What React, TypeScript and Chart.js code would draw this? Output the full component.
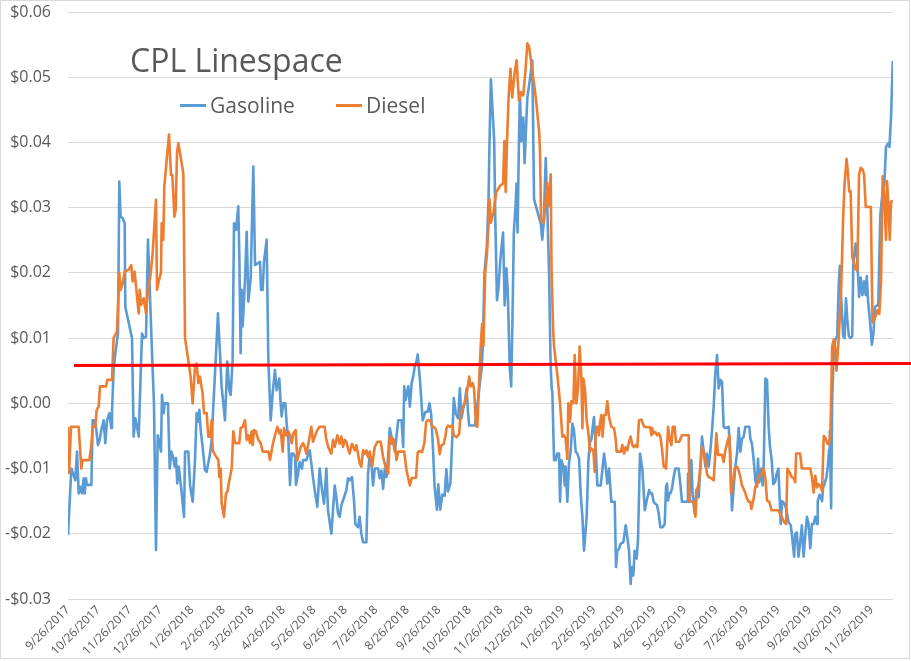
import React, { useEffect, useRef } from "react";
import { Chart, registerables } from "chart.js";

Chart.register(...registerables);

// Days since 9/26/2017
const gasDays = [
  0, 3.3, 5.6, 7.2, 8.9, 10.5, 12.1, 13.8, 15.4, 16.4, 17.7, 18.7, 23.0, 24.3, 26.2, 27.9, 29.5, 31.2, 32.8, 35.1,
  36.7, 38.4, 40.7, 42.6, 43.3, 44.9, 46.6, 49.2, 50.5, 51.8, 53.8, 55.8, 56.4, 63.0, 64.6, 66.3, 67.9, 69.6, 72.8, 74.5,
  76.8, 78.7, 82.7, 84.6, 86.6, 88.3, 89.9, 91.5, 92.5, 94.2, 95.1, 98.4, 100.1, 101.7, 103.4, 105.0, 106.3, 107.6, 109.0, 111.6,
  114.2, 115.2, 118.4, 120.1, 122.7, 125.0, 126.6, 128.3, 129.3, 130.6, 132.5, 134.8, 136.5, 139.8, 141.4, 143.0, 145.7, 147.6, 149.6, 151.2,
  154.5, 156.8, 158.8, 160.1, 162.0, 163.4, 165.4, 167.6, 168.6, 169.9, 170.9, 171.9, 174.2, 175.9, 177.5, 179.8, 182.4, 184.1, 187.3, 189.0,
  190.0, 191.6, 192.9, 195.5, 197.2, 199.5, 201.4, 203.7, 205.4, 208.0, 209.3, 210.3, 211.9, 213.9, 215.2, 216.9, 218.5, 220.2, 221.8, 223.5,
  224.4, 226.4, 228.0, 230.3, 231.3, 234.6, 237.9, 239.5, 241.1, 242.8, 245.4, 247.7, 250.0, 252.0, 254.3, 255.9, 259.2, 262.5, 264.1, 265.8,
  267.4, 269.1, 271.7, 274.0, 275.6, 277.2, 279.5, 281.5, 282.8, 285.4, 287.1, 288.7, 290.4, 293.7, 295.3, 297.0, 298.6, 300.2, 301.9, 305.2,
  306.8, 308.5, 310.1, 311.8, 313.4, 315.1, 316.7, 318.4, 320.0, 321.7, 325.0, 328.3, 329.9, 330.9, 332.3, 333.2, 334.9, 336.5, 338.2, 339.8,
  341.5, 342.5, 344.2, 346.5, 349.1, 351.8, 354.1, 355.8, 357.5, 359.1, 360.8, 363.1, 364.4, 366.4, 368.4, 370.7, 372.4, 374.0, 376.4, 378.4,
  379.7, 381.7, 384.0, 385.7, 387.3, 389.0, 390.6, 392.3, 393.9, 394.9, 400.6, 402.3, 403.9, 405.6, 407.2, 408.2, 409.9, 412.2, 413.9, 414.9,
  416.2, 419.5, 420.5, 422.2, 423.8, 425.5, 428.2, 429.8, 431.5, 432.8, 434.8, 436.2, 437.5, 438.8, 440.5, 441.5, 442.5, 443.8, 444.8, 446.1,
  448.1, 449.4, 450.8, 452.1, 454.7, 457.0, 458.7, 462.7, 465.4, 466.8, 468.2, 470.2, 471.7, 473.5, 475.0, 476.1, 476.7, 478.4, 480.0, 481.6,
  483.3, 484.3, 485.6, 487.6, 488.9, 489.8, 491.5, 493.1, 494.8, 496.4, 498.0, 499.7, 501.3, 503.0, 504.6, 506.3, 507.9, 510.5, 512.2, 513.8,
  515.1, 516.1, 517.7, 519.4, 521.0, 524.3, 525.9, 527.6, 529.2, 530.8, 532.5, 534.8, 538.1, 539.4, 540.7, 542.3, 544.0, 546.6, 548.9, 550.5,
  552.2, 553.8, 554.8, 556.4, 557.7, 559.7, 561.0, 563.0, 565.4, 567.7, 570.3, 572.0, 573.0, 574.8, 576.4, 578.1, 579.7, 581.4, 583.0, 585.3,
  587.3, 588.6, 589.6, 590.6, 591.9, 592.9, 594.5, 596.1, 597.8, 601.0, 602.7, 604.3, 609.3, 610.2, 611.5, 613.5, 614.8, 616.8, 618.4, 620.7,
  622.4, 624.0, 625.7, 627.3, 628.9, 630.6, 632.2, 633.9, 635.5, 637.1, 638.8, 640.4, 642.1, 643.7, 645.3, 647.0, 650.3, 651.9, 653.5, 655.2,
  656.8, 658.5, 660.1, 661.8, 663.4, 665.0, 666.7, 670.6, 671.6, 673.2, 674.9, 676.5, 678.1, 679.1, 680.4, 682.4, 683.7, 684.7, 686.4, 688.0,
  689.6, 690.9, 692.6, 694.2, 695.9, 697.5, 699.2, 701.5, 702.8, 704.8, 706.8, 708.1, 709.1, 711.4, 712.4, 714.7, 715.7, 717.3, 719.0, 720.6,
  722.3, 724.0, 725.6, 727.3, 728.9, 730.6, 732.2, 733.9, 735.5, 737.2, 737.9, 739.8, 742.2, 743.2, 744.5, 746.5, 747.8, 749.1, 749.8, 751.1,
  752.1, 753.8, 755.4, 757.1, 758.7, 759.7, 761.0, 763.0, 764.3, 765.7, 767.0, 768.6, 770.3, 771.9, 772.9, 775.2, 776.9, 778.6, 780.2, 781.9,
  783.5, 785.2, 786.2, 787.5, 789.5, 791.2, 792.8, 794.2, 796.2, 797.5, 799.5, 801.8, 803.5, 805.1, 806.8, 808.5, 810.1, 811.8,
];
const gasVals = [
  -0.0202, -0.0100, -0.0110, -0.0118, -0.0074, -0.0138, -0.0128, -0.0138, -0.0115, -0.0138, -0.0115, -0.0125, -0.0125, -0.0026, -0.0026, -0.0041, -0.0064, -0.0056, -0.0041, -0.0026,
  -0.0061, -0.0026, -0.0015, -0.0038, -0.0013, 0.0051, 0.0077, 0.0107, 0.0340, 0.0286, 0.0284, 0.0276, 0.0148, 0.0100, -0.0051, -0.0023, -0.0036, -0.0051, 0.0107, 0.0100,
  0.0102, 0.0251, 0.0077, 0.0000, -0.0225, -0.0049, -0.0059, -0.0074, 0.0013, -0.0015, 0.0000, 0.0000, -0.0100, -0.0074, -0.0082, -0.0097, -0.0084, -0.0123, -0.0097, -0.0133,
  -0.0174, -0.0074, -0.0074, -0.0125, -0.0151, -0.0087, -0.0015, -0.0028, -0.0010, -0.0041, -0.0067, -0.0102, -0.0105, -0.0077, -0.0056, -0.0005, 0.0077, 0.0138, 0.0077, 0.0026,
  -0.0026, 0.0064, 0.0020, 0.0013, 0.0066, 0.0276, 0.0266, 0.0302, 0.0230, 0.0077, 0.0174, 0.0118, 0.0189, 0.0263, 0.0156, 0.0192, 0.0363, 0.0212, 0.0215, 0.0217,
  0.0174, 0.0174, 0.0217, 0.0251, 0.0066, -0.0026, 0.0015, 0.0051, 0.0020, 0.0038, 0.0000, -0.0020, 0.0000, 0.0000, -0.0031, -0.0056, -0.0125, -0.0077, -0.0077, -0.0082,
  -0.0125, -0.0108, -0.0090, -0.0100, -0.0087, -0.0087, -0.0072, -0.0092, -0.0113, -0.0133, -0.0159, -0.0100, -0.0133, -0.0154, -0.0100, -0.0164, -0.0200, -0.0126, -0.0144, -0.0169,
  -0.0174, -0.0156, -0.0144, -0.0133, -0.0115, -0.0118, -0.0113, -0.0149, -0.0185, -0.0190, -0.0174, -0.0200, -0.0213, -0.0213, -0.0108, -0.0077, -0.0092, -0.0126, -0.0100, -0.0100,
  -0.0115, -0.0103, -0.0131, -0.0100, -0.0113, -0.0082, -0.0038, -0.0051, -0.0059, -0.0074, -0.0026, -0.0026, -0.0067, 0.0026, 0.0005, 0.0013, 0.0026, -0.0005, 0.0031, 0.0041,
  0.0059, 0.0060, 0.0075, 0.0034, -0.0026, -0.0013, -0.0013, 0.0000, -0.0018, -0.0065, -0.0127, -0.0163, -0.0124, -0.0163, -0.0140, -0.0142, -0.0101, -0.0135, -0.0122, -0.0047,
  0.0008, -0.0016, -0.0023, 0.0023, -0.0023, -0.0008, 0.0003, 0.0023, -0.0018, -0.0034, -0.0034, -0.0008, 0.0010, 0.0034, 0.0054, 0.0088, 0.0200, 0.0241, 0.0313, 0.0402,
  0.0497, 0.0402, 0.0288, 0.0158, 0.0179, 0.0220, 0.0262, 0.0150, 0.0207, 0.0174, 0.0054, 0.0026, 0.0132, 0.0262, 0.0303, 0.0337, 0.0262, 0.0399, 0.0477, 0.0402,
  0.0438, 0.0368, 0.0422, 0.0469, 0.0497, 0.0526, 0.0313, 0.0290, 0.0275, 0.0251, 0.0277, 0.0376, 0.0302, 0.0200, 0.0060, 0.0021, 0.0018, -0.0087, -0.0087, -0.0077,
  -0.0077, -0.0151, -0.0087, -0.0097, -0.0126, -0.0097, -0.0151, -0.0092, -0.0072, -0.0031, -0.0041, -0.0074, -0.0077, -0.0085, -0.0138, -0.0174, -0.0226, -0.0174, -0.0087, -0.0059,
  -0.0056, -0.0041, -0.0021, -0.0067, -0.0126, -0.0126, -0.0103, -0.0077, -0.0097, -0.0123, -0.0100, -0.0151, -0.0151, -0.0251, -0.0226, -0.0223, -0.0215, -0.0213, -0.0187, -0.0205,
  -0.0226, -0.0277, -0.0251, -0.0264, -0.0226, -0.0238, -0.0210, -0.0077, -0.0103, -0.0164, -0.0144, -0.0133, -0.0138, -0.0138, -0.0151, -0.0154, -0.0156, -0.0169, -0.0190, -0.0190,
  -0.0185, -0.0128, -0.0123, -0.0149, -0.0138, -0.0138, -0.0131, -0.0113, -0.0100, -0.0100, -0.0123, -0.0151, -0.0151, -0.0108, -0.0151, -0.0087, -0.0141, -0.0169, -0.0133, -0.0144,
  -0.0097, -0.0051, -0.0074, -0.0097, -0.0077, -0.0097, -0.0074, -0.0041, -0.0005, 0.0046, 0.0074, 0.0023, 0.0036, 0.0033, -0.0036, -0.0038, -0.0036, -0.0079, -0.0164, -0.0128,
  -0.0097, -0.0077, -0.0038, -0.0074, -0.0054, -0.0051, -0.0036, -0.0036, -0.0054, -0.0062, -0.0087, -0.0118, -0.0128, -0.0085, -0.0121, -0.0100, -0.0126, -0.0097, 0.0038, 0.0036,
  -0.0036, -0.0066, -0.0087, -0.0124, -0.0121, -0.0108, -0.0100, -0.0185, -0.0150, -0.0153, -0.0161, -0.0172, -0.0182, -0.0187, -0.0200, -0.0235, -0.0200, -0.0198, -0.0235, -0.0214,
  -0.0187, -0.0235, -0.0203, -0.0174, -0.0185, -0.0222, -0.0185, -0.0185, -0.0174, -0.0185, -0.0150, -0.0140, -0.0150, -0.0129, -0.0124, -0.0113, -0.0097, -0.0071, -0.0042, -0.0161,
  0.0003, 0.0082, 0.0098, 0.0103, 0.0187, 0.0211, 0.0161, 0.0103, 0.0100, 0.0161, 0.0129, 0.0103, 0.0100, 0.0103, 0.0214, 0.0245, 0.0219, 0.0163, 0.0193, 0.0166,
  0.0187, 0.0166, 0.0195, 0.0156, 0.0124, 0.0090, 0.0108, 0.0148, 0.0150, 0.0150, 0.0288, 0.0325, 0.0336, 0.0393, 0.0398, 0.0393, 0.0441, 0.0525,
];

const dslDays = [
  0, 1.0, 3.0, 10.5, 13.1, 14.4, 21.0, 23.0, 24.3, 26.9, 28.2, 30.2, 31.5, 37.4, 38.7, 43.3, 44.9, 48.2, 50.5, 51.8,
  53.8, 55.8, 59.8, 62.3, 63.6, 65.6, 67.9, 69.6, 70.5, 72.2, 74.5, 76.8, 78.7, 81.0, 83.3, 86.6, 87.6, 89.6, 91.5, 92.2,
  93.8, 94.8, 97.1, 99.4, 101.4, 102.7, 104.7, 106.0, 107.3, 108.6, 113.5, 115.2, 118.4, 120.7, 122.7, 125.0, 126.6, 128.3, 129.9, 132.5,
  133.9, 136.5, 138.1, 139.8, 141.4, 142.4, 144.7, 148.0, 148.9, 150.3, 151.2, 153.5, 155.5, 156.8, 158.8, 161.1, 162.7, 164.4, 168.6, 169.9,
  171.9, 174.2, 175.9, 177.5, 179.1, 180.8, 181.8, 183.1, 185.0, 187.3, 189.6, 191.6, 197.2, 198.8, 201.4, 203.7, 206.0, 208.0, 209.3, 211.3,
  212.6, 214.6, 216.9, 218.5, 220.2, 221.8, 224.1, 225.7, 229.0, 231.3, 232.9, 234.6, 236.9, 239.5, 241.1, 243.4, 245.4, 247.7, 252.6, 254.3,
  256.6, 259.2, 260.8, 262.5, 265.1, 267.4, 269.1, 270.7, 272.4, 274.0, 275.6, 277.2, 279.5, 282.2, 283.8, 285.4, 287.1, 288.7, 290.4, 292.0,
  293.7, 295.3, 297.0, 299.3, 301.9, 304.5, 307.8, 310.1, 312.5, 315.1, 316.7, 318.4, 320.0, 321.7, 323.3, 325.0, 330.9, 333.2, 336.5, 338.2,
  342.5, 344.2, 345.8, 348.5, 350.8, 352.5, 354.1, 356.5, 358.5, 359.8, 361.8, 364.1, 365.8, 367.4, 369.8, 371.7, 372.4, 374.0, 375.7, 378.4,
  379.7, 382.4, 385.0, 386.3, 388.3, 390.6, 392.3, 394.9, 396.3, 398.3, 399.6, 401.6, 402.9, 404.9, 406.3, 407.6, 408.9, 410.6, 412.2, 413.9,
  414.9, 416.2, 418.8, 421.5, 425.5, 428.2, 429.5, 430.8, 432.2, 433.8, 435.5, 437.2, 439.5, 441.5, 443.8, 446.1, 448.1, 450.4, 452.1, 453.8,
  457.0, 460.4, 463.7, 464.6, 465.6, 468.2, 471.5, 473.0, 475.1, 475.9, 477.5, 478.4, 481.6, 484.3, 486.6, 488.2, 489.8, 491.5, 492.4, 494.1,
  495.4, 497.4, 498.7, 500.3, 502.0, 503.6, 505.3, 506.3, 507.2, 508.9, 510.5, 512.2, 513.8, 515.1, 517.1, 518.4, 519.4, 521.0, 522.6, 523.6,
  524.9, 526.2, 527.6, 529.2, 530.8, 532.5, 534.8, 537.4, 539.0, 540.0, 544.0, 545.6, 547.2, 548.9, 550.5, 552.2, 553.8, 555.4, 557.1, 558.7,
  560.4, 562.0, 564.4, 567.0, 573.0, 574.3, 574.8, 576.4, 578.1, 579.7, 581.4, 583.0, 584.6, 586.3, 588.6, 590.6, 591.9, 593.9, 595.2, 597.1,
  598.4, 601.7, 604.3, 610.9, 611.5, 614.2, 615.8, 617.5, 619.1, 620.7, 622.4, 624.0, 625.7, 627.3, 628.9, 630.6, 633.2, 635.5, 637.1, 638.1,
  639.8, 643.7, 645.3, 647.0, 649.6, 651.0, 652.6, 654.2, 656.2, 658.5, 660.1, 661.8, 663.4, 665.0, 666.7, 668.3, 670.0, 671.6, 672.6, 674.9,
  676.5, 678.1, 679.8, 682.4, 684.7, 686.4, 688.0, 690.3, 692.6, 699.2, 700.9, 702.5, 704.8, 706.8, 708.1, 710.1, 712.4, 714.7, 715.7, 716.7,
  720.6, 722.3, 730.6, 732.2, 733.9, 735.5, 737.2, 738.9, 740.5, 742.2, 743.8, 745.5, 747.1, 748.8, 750.4, 752.1, 753.8, 755.4, 756.4, 758.7,
  761.0, 763.0, 764.3, 766.3, 767.6, 768.9, 770.3, 771.9, 773.6, 775.2, 776.9, 778.6, 780.2, 781.9, 783.5, 785.2, 790.2, 791.8, 793.5, 795.2,
  796.8, 798.5, 800.2, 801.8, 803.5, 805.1, 806.1, 807.5, 808.8, 810.1, 811.8,
];
const dslVals = [
  -0.0036, -0.0107, -0.0036, -0.0036, -0.0100, -0.0087, -0.0087, -0.0064, -0.0036, -0.0036, -0.0010, -0.0005, 0.0026, 0.0026, 0.0036, 0.0036, 0.0100, 0.0110, 0.0200, 0.0174,
  0.0184, 0.0202, 0.0205, 0.0212, 0.0187, 0.0202, 0.0164, 0.0138, 0.0174, 0.0151, 0.0161, 0.0138, 0.0176, 0.0194, 0.0230, 0.0312, 0.0174, 0.0189, 0.0200, 0.0276,
  0.0251, 0.0332, 0.0373, 0.0412, 0.0350, 0.0350, 0.0286, 0.0297, 0.0384, 0.0399, 0.0353, 0.0100, 0.0066, 0.0041, 0.0000, 0.0056, 0.0061, 0.0031, 0.0041, 0.0015,
  -0.0015, -0.0015, -0.0051, -0.0051, -0.0026, -0.0072, -0.0079, -0.0087, -0.0113, -0.0100, -0.0153, -0.0174, -0.0138, -0.0136, -0.0118, -0.0100, -0.0043, -0.0061, -0.0061, -0.0038,
  -0.0036, -0.0026, -0.0056, -0.0049, -0.0061, -0.0043, -0.0064, -0.0041, -0.0043, -0.0056, -0.0061, -0.0074, -0.0074, -0.0087, -0.0064, -0.0049, -0.0036, -0.0046, -0.0041, -0.0074,
  -0.0038, -0.0049, -0.0043, -0.0049, -0.0061, -0.0046, -0.0041, -0.0087, -0.0067, -0.0061, -0.0067, -0.0077, -0.0059, -0.0036, -0.0059, -0.0049, -0.0041, -0.0036, -0.0036, -0.0056,
  -0.0069, -0.0077, -0.0056, -0.0067, -0.0049, -0.0062, -0.0051, -0.0067, -0.0056, -0.0059, -0.0069, -0.0077, -0.0062, -0.0072, -0.0064, -0.0077, -0.0092, -0.0097, -0.0072, -0.0077,
  -0.0072, -0.0082, -0.0074, -0.0097, -0.0067, -0.0059, -0.0059, -0.0082, -0.0097, -0.0108, -0.0051, -0.0062, -0.0054, -0.0062, -0.0087, -0.0074, -0.0074, -0.0103, -0.0126, -0.0115,
  -0.0114, -0.0075, -0.0073, -0.0075, -0.0060, -0.0028, -0.0026, -0.0026, -0.0036, -0.0036, -0.0039, -0.0054, -0.0078, -0.0065, -0.0062, -0.0049, -0.0039, -0.0034, -0.0036, -0.0034,
  -0.0049, -0.0052, -0.0047, -0.0018, -0.0008, 0.0000, 0.0013, 0.0041, 0.0026, 0.0031, 0.0023, -0.0034, -0.0036, 0.0044, 0.0091, 0.0122, 0.0088, 0.0200, 0.0225, 0.0275,
  0.0313, 0.0277, 0.0293, 0.0324, 0.0334, 0.0337, 0.0402, 0.0324, 0.0407, 0.0474, 0.0513, 0.0469, 0.0505, 0.0526, 0.0464, 0.0477, 0.0472, 0.0513, 0.0552, 0.0547,
  0.0510, 0.0469, 0.0417, 0.0384, 0.0282, 0.0277, 0.0338, 0.0302, 0.0351, 0.0207, 0.0113, 0.0087, 0.0044, 0.0000, -0.0051, -0.0049, -0.0054, -0.0085, 0.0000, -0.0028,
  0.0003, 0.0000, 0.0074, 0.0000, 0.0023, 0.0087, 0.0038, -0.0038, 0.0038, 0.0021, -0.0026, -0.0046, -0.0074, -0.0069, -0.0072, -0.0105, -0.0046, -0.0036, -0.0049, -0.0031,
  -0.0018, -0.0051, -0.0018, -0.0018, 0.0003, -0.0021, -0.0036, -0.0038, -0.0054, -0.0074, -0.0074, -0.0064, -0.0077, -0.0067, -0.0072, -0.0059, -0.0051, -0.0064, -0.0067, -0.0064,
  -0.0067, -0.0026, -0.0025, -0.0036, -0.0037, -0.0049, -0.0038, -0.0046, -0.0044, -0.0049, -0.0046, -0.0051, -0.0069, -0.0097, -0.0100, -0.0036, -0.0051, -0.0064, -0.0036, -0.0036,
  -0.0059, -0.0059, -0.0049, -0.0049, -0.0149, -0.0151, -0.0151, -0.0174, -0.0133, -0.0123, -0.0097, -0.0067, -0.0074, -0.0087, -0.0108, -0.0113, -0.0115, -0.0118, -0.0077, -0.0046,
  -0.0079, -0.0079, -0.0090, -0.0072, -0.0056, -0.0049, -0.0138, -0.0126, -0.0100, -0.0097, -0.0103, -0.0113, -0.0126, -0.0131, -0.0138, -0.0146, -0.0151, -0.0151, -0.0162, -0.0146,
  -0.0128, -0.0126, -0.0113, -0.0108, -0.0100, -0.0115, -0.0149, -0.0151, -0.0164, -0.0164, -0.0169, -0.0174, -0.0182, -0.0185, -0.0100, -0.0106, -0.0113, -0.0116, -0.0121, -0.0077,
  -0.0077, -0.0100, -0.0100, -0.0113, -0.0137, -0.0111, -0.0129, -0.0124, -0.0127, -0.0135, -0.0050, -0.0053, -0.0061, -0.0063, -0.0048, 0.0087, 0.0098, 0.0082, 0.0050, 0.0103,
  0.0177, 0.0288, 0.0335, 0.0375, 0.0354, 0.0325, 0.0325, 0.0224, 0.0216, 0.0206, 0.0203, 0.0351, 0.0361, 0.0359, 0.0351, 0.0301, 0.0301, 0.0124, 0.0129, 0.0135,
  0.0143, 0.0137, 0.0187, 0.0348, 0.0314, 0.0251, 0.0341, 0.0304, 0.0251, 0.0309, 0.0311,
];

// Threshold line (drawn shape in the original)
const redDays = [5.9, 830];
const redVals = [0.0058, 0.0061];

const xTickLabels = [
  "9/26/2017", "10/26/2017", "11/26/2017", "12/26/2017", "1/26/2018", "2/26/2018", "3/26/2018", "4/26/2018",
  "5/26/2018", "6/26/2018", "7/26/2018", "8/26/2018", "9/26/2018", "10/26/2018", "11/26/2018", "12/26/2018",
  "1/26/2019", "2/26/2019", "3/26/2019", "4/26/2019", "5/26/2019", "6/26/2019", "7/26/2019", "8/26/2019",
  "9/26/2019", "10/26/2019", "11/26/2019",
];
const xMaxDay = 812;
const yMin = -0.03;
const yMax = 0.06;
const yStep = 0.01;

const seriesNames = ["Gasoline", "Diesel"];
const seriesColors = ["#5B9BD5", "#ED7D31"];
const chartTitle = "CPL Linespace";

const baseUTC = Date.UTC(2017, 8, 26);
const dayOf = (s: string) => {
  const [m, d, y] = s.split("/").map(Number);
  return (Date.UTC(y, m - 1, d) - baseUTC) / 86400000;
};
const tickDays = xTickLabels.map(dayOf);

const pts = (xs: number[], ys: number[]) => xs.map((x, i) => ({ x, y: ys[i] }));

export default function App() {
  const ref = useRef<HTMLCanvasElement | null>(null);
  useEffect(() => {
    document.body.style.margin = "0";
    const canvas = ref.current;
    if (!canvas) return;
    const font = "'Open Sans', 'Liberation Sans', sans-serif";
    const chart = new Chart(canvas, {
      type: "line",
      data: {
        datasets: [
          {
            label: seriesNames[0],
            data: pts(gasDays, gasVals),
            borderColor: seriesColors[0],
            backgroundColor: seriesColors[0],
            borderWidth: 2.6,
            pointRadius: 0,
            tension: 0,
            borderJoinStyle: "round",
            order: 3,
          },
          {
            label: seriesNames[1],
            data: pts(dslDays, dslVals),
            borderColor: seriesColors[1],
            backgroundColor: seriesColors[1],
            borderWidth: 2.6,
            pointRadius: 0,
            tension: 0,
            borderJoinStyle: "round",
            order: 2,
          },
          {
            label: "threshold",
            data: pts(redDays, redVals),
            borderColor: "#FF0000",
            borderWidth: 3,
            pointRadius: 0,
            tension: 0,
            clip: false as any,
            order: 1,
          },
        ],
      },
      options: {
        animation: false,
        responsive: false,
        events: [],
        layout: { padding: { left: 3, right: 18, top: 12, bottom: 4 } },
        plugins: { legend: { display: false }, title: { display: false }, tooltip: { enabled: false } },
        scales: {
          x: {
            type: "linear",
            min: 0,
            max: xMaxDay,
            grid: { display: false, drawTicks: false },
            border: { display: false },
            afterBuildTicks: (axis: any) => {
              axis.ticks = tickDays.map((v) => ({ value: v }));
            },
            afterFit: (s: any) => {
              s.height = 58;
            },
            ticks: {
              autoSkip: false,
              maxRotation: 45,
              minRotation: 45,
              padding: 4,
              color: "#595959",
              font: { family: font, size: 12 },
              callback: (_v: any, i: number) => xTickLabels[i],
            },
          },
          y: {
            min: yMin,
            max: yMax,
            grid: { color: "#D9D9D9", drawTicks: false, lineWidth: 1 },
            border: { display: false },
            afterFit: (s: any) => {
              s.width = 65;
              s.paddingTop = 0;
              s.paddingBottom = 0;
            },
            ticks: {
              stepSize: yStep,
              padding: 17,
              color: "#595959",
              font: { family: font, size: 16 },
              callback: (v: any) => {
                const n = Number(v);
                const a = Math.abs(n).toFixed(2);
                return (n < -1e-9 ? "-$" : "$") + a;
              },
            },
          },
        },
      },
    });
    return () => chart.destroy();
  }, []);

  const font = "'Open Sans', 'Liberation Sans', sans-serif";
  return (
    <div style={{ position: "fixed", left: 0, top: 0, width: 911, height: 661, background: "#fff", overflow: "hidden" }}>
      <div
        style={{
          position: "absolute",
          left: 0,
          top: 0,
          width: 908,
          height: 657,
          border: "1px solid #D9D9D9",
        }}
      />
      <canvas ref={ref} width={911} height={661} style={{ position: "absolute", left: 0, top: 0, width: 911, height: 661 }} />
      <div
        style={{
          position: "absolute",
          left: 130,
          top: 38,
          fontFamily: font,
          fontSize: 32,
          color: "#595959",
          lineHeight: "44px",
          whiteSpace: "nowrap",
        }}
      >
        {chartTitle}
      </div>
      {seriesNames.map((name, i) => (
        <div
          key={name}
          style={{
            position: "absolute",
            left: i === 0 ? 180 : 336,
            top: 91,
            height: 28,
            display: "flex",
            alignItems: "center",
            fontFamily: font,
            fontSize: 21,
            color: "#595959",
            whiteSpace: "nowrap",
          }}
        >
          <span style={{ display: "inline-block", width: 26, height: 3, background: seriesColors[i], marginRight: 4 }} />
          <span>{name}</span>
        </div>
      ))}
    </div>
  );
}
